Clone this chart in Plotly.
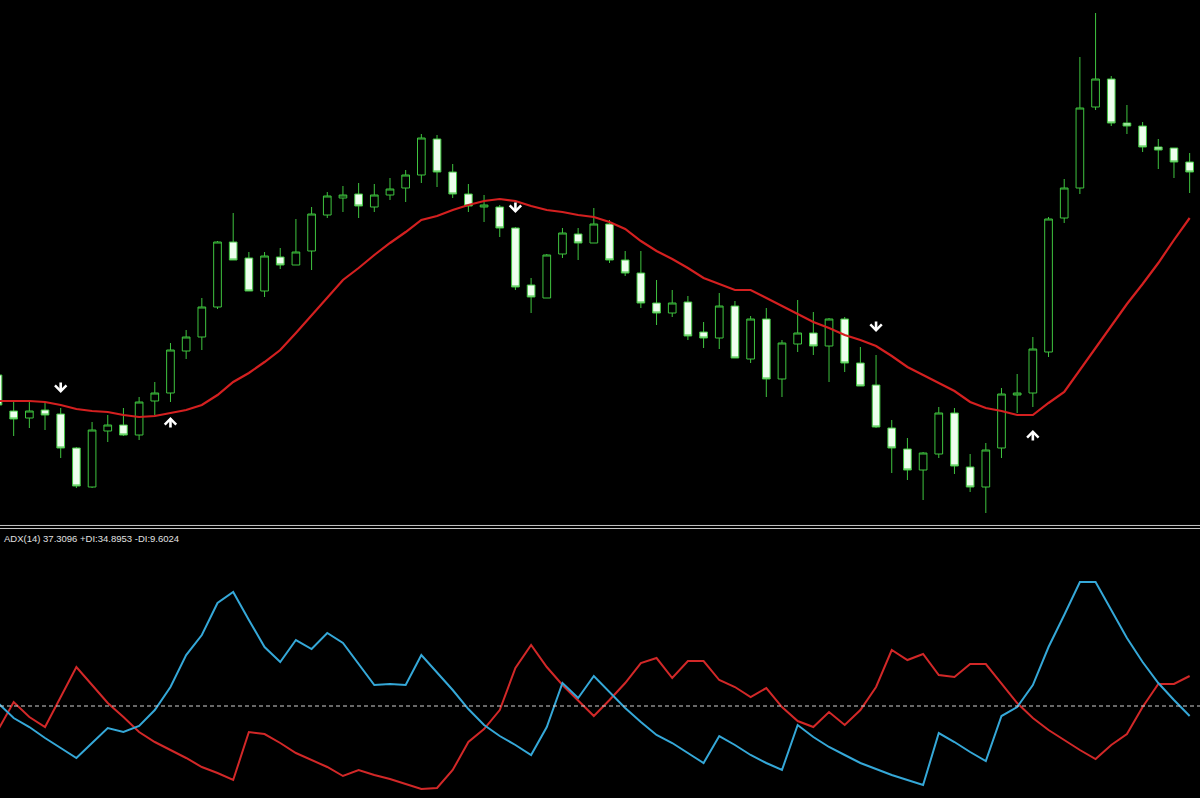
import plotly.graph_objects as go

# ---------------- data ----------------
bars = list(range(77))

opens = [225, 189, 182, 190, 186, 152, 113, 169, 175, 165,
         199, 207, 249, 263, 293, 358, 342, 309, 343, 335,
         349, 385, 402, 406, 393, 405, 412, 425, 461, 428,
         406, 393, 393, 372, 315, 302, 346, 366, 357, 376,
         340, 327, 297, 287, 298, 268, 262, 294, 241, 281,
         221, 256, 267, 254, 281, 237, 215, 172, 151, 130,
         146, 187, 133, 113, 152, 205, 207, 248, 382, 412,
         493, 521, 477, 474, 453, 452, 438]
highs = [230, 198, 200, 197, 192, 153, 178, 185, 192, 203,
         218, 257, 270, 302, 359, 387, 348, 348, 352, 381,
         393, 408, 414, 417, 416, 422, 430, 466, 465, 436,
         416, 405, 395, 373, 322, 346, 372, 372, 392, 380,
         349, 349, 320, 310, 304, 278, 307, 299, 284, 292,
         260, 300, 288, 282, 283, 253, 245, 180, 162, 148,
         193, 192, 146, 157, 212, 226, 263, 383, 421, 543,
         587, 524, 495, 478, 461, 452, 447]
lows = [190, 164, 172, 170, 142, 112, 112, 158, 164, 160,
        185, 198, 241, 250, 291, 340, 309, 303, 331, 335,
        330, 382, 388, 382, 388, 400, 398, 417, 413, 402,
        388, 378, 363, 310, 287, 302, 342, 340, 357, 337,
        324, 292, 275, 283, 260, 252, 251, 242, 237, 203,
        203, 248, 245, 218, 228, 214, 172, 127, 120, 100,
        142, 126, 108, 87, 142, 187, 193, 243, 377, 406,
        490, 474, 466, 448, 431, 422, 407]
closes = [195, 181, 189, 185, 152, 114, 170, 175, 165, 198,
          207, 250, 263, 293, 358, 340, 309, 344, 335, 348,
          386, 404, 405, 394, 405, 411, 425, 462, 428, 406,
          394, 395, 372, 313, 303, 345, 367, 357, 376, 340,
          327, 297, 287, 297, 264, 262, 294, 242, 281, 221,
          257, 267, 254, 281, 237, 214, 173, 152, 130, 147,
          187, 134, 113, 150, 206, 207, 251, 381, 412, 492,
          521, 477, 474, 453, 450, 438, 428]

moving_avg = [199, 199, 199, 198, 195, 191, 189, 188, 185, 183,
              184, 187, 190, 195, 205, 218, 227, 238, 250, 267,
              285, 302, 320, 332, 345, 357, 368, 380, 384, 390,
              395, 399, 401, 399, 394, 390, 388, 385, 383, 378,
              371, 359, 349, 341, 332, 322, 316, 310, 310, 302,
              294, 286, 278, 272, 265, 260, 254, 244, 233, 225,
              217, 209, 198, 192, 189, 185, 185, 197, 208, 230,
              252, 274, 296, 316, 337, 360, 382]

# signal arrows (price at arrow tip)
sell_bars = [4, 33, 56]
sell_tips = [207, 387, 268]
buy_bars = [11, 66]
buy_tips = [183, 170]

plus_di = [23.75, 20, 17.75, 15, 12.5, 10, 13.75, 17.5, 16.5, 18,
           22, 27.75, 35.75, 40.75, 48.75, 51.5, 44.5, 37.75, 34, 39.5,
           37.25, 41.25, 38.75, 33.5, 28.25, 28.5, 28.25, 35.75, 31.5, 27,
           22.25, 18.25, 15.5, 13.25, 10.75, 17.75, 28.75, 25, 30.5, 26.5,
           22.5, 19, 15.75, 13.75, 11.25, 8.75, 15.5, 13.25, 10.75, 8.75,
           7, 18.25, 15.25, 12.75, 10.75, 8.75, 7.25, 5.75, 4.5, 3.25,
           16.25, 14, 11.5, 9.25, 20.5, 22.75, 28.25, 37.75, 45.75, 54,
           54, 47, 40, 34, 28.75, 24.5, 20.5]
minus_di = [17, 24, 20.25, 17.75, 25.25, 32.75, 28.25, 23.75, 20.25, 16.5,
            14, 12, 10, 7.75, 6.25, 4.5, 16.5, 16, 13.75, 11.25,
            9.5, 7.75, 5.5, 7, 5.75, 4.75, 3.5, 2.25, 2.5, 7,
            14, 17.25, 22, 32.5, 38.25, 32.75, 28.25, 24.5, 20.5, 24.5,
            28.75, 33.75, 35, 30, 34.25, 34.25, 29.5, 27.75, 25.25, 27.5,
            22.75, 19.25, 17.75, 21.5, 18.25, 22, 27.75, 37, 34.5, 36,
            30.75, 30.25, 33.5, 33.5, 28.75, 23.75, 20, 17, 14.5, 12,
            9.75, 13.25, 16, 22.75, 28.5, 28.5, 30.5]
adx_level = 23
adx_label = "ADX(14) 37.3096 +DI:34.8953 -DI:9.6024"

# ---------------- style ----------------
GREEN = "#3fc43f"
BODY_WHITE = "#eefeee"
MA_RED = "#d42020"
DI_BLUE = "#35a8d8"
DI_RED = "#d22828"

fig = go.Figure()

fig.add_trace(go.Candlestick(
    x=bars, open=opens, high=highs, low=lows, close=closes,
    increasing=dict(line=dict(color=GREEN, width=1), fillcolor="black"),
    decreasing=dict(line=dict(color=GREEN, width=1), fillcolor=BODY_WHITE),
    whiskerwidth=0, showlegend=False, hoverinfo="skip",
    xaxis="x", yaxis="y"))

fig.add_trace(go.Scatter(
    x=bars, y=moving_avg, mode="lines",
    line=dict(color=MA_RED, width=2.2), showlegend=False, hoverinfo="skip",
    xaxis="x", yaxis="y"))

# arrows drawn as annotation arrows (stem + chevron head) at data coordinates
arrow_style = dict(text="", showarrow=True, arrowhead=4, arrowsize=0.85,
                   arrowwidth=2.6, arrowcolor="white", standoff=0, startstandoff=0)
for b, t in zip(sell_bars, sell_tips):
    fig.add_annotation(x=b, y=t, xref="x", yref="y", ax=0, ay=-12, **arrow_style)
for b, t in zip(buy_bars, buy_tips):
    fig.add_annotation(x=b, y=t, xref="x", yref="y", ax=0, ay=12, **arrow_style)

fig.add_trace(go.Scatter(
    x=bars, y=minus_di, mode="lines", line=dict(color=DI_RED, width=2),
    showlegend=False, hoverinfo="skip", xaxis="x2", yaxis="y2"))
fig.add_trace(go.Scatter(
    x=bars, y=plus_di, mode="lines", line=dict(color=DI_BLUE, width=2),
    showlegend=False, hoverinfo="skip", xaxis="x2", yaxis="y2"))

fig.add_shape(type="line", xref="x2 domain", yref="y2", x0=0, x1=1,
              y0=adx_level, y1=adx_level,
              line=dict(color="#d0d0d0", width=1, dash="4px,3px"))

# separator between windows
for yp in (0.3415, 0.3377):
    fig.add_shape(type="line", xref="paper", yref="paper", x0=0, x1=1,
                  y0=yp, y1=yp, line=dict(color="#c4c4c4", width=1))

fig.add_annotation(text=adx_label, xref="paper", yref="paper", x=0.002, y=0.3255,
                   xanchor="left", yanchor="middle", showarrow=False,
                   font=dict(family="Liberation Sans", size=9.5, color="#e0e0e0"))

xr = [0.128, 76.66]
fig.update_layout(
    width=1200, height=798,
    margin=dict(l=0, r=0, t=0, b=0),
    paper_bgcolor="black", plot_bgcolor="black",
    xaxis=dict(domain=[0, 1], range=xr, visible=False, anchor="y",
               rangeslider=dict(visible=False), fixedrange=True),
    xaxis2=dict(domain=[0, 1], range=xr, visible=False, anchor="y2"),
    yaxis=dict(domain=[0.3421, 1], range=[75, 600], visible=False),
    yaxis2=dict(domain=[0, 0.3358], range=[0, 67], visible=False),
    showlegend=False,
)

fig.write_html(
    "out.html",
    config={"displayModeBar": False},
    post_script="document.body.style.margin='0';document.body.style.background='black';document.body.style.overflow='hidden';",
)
